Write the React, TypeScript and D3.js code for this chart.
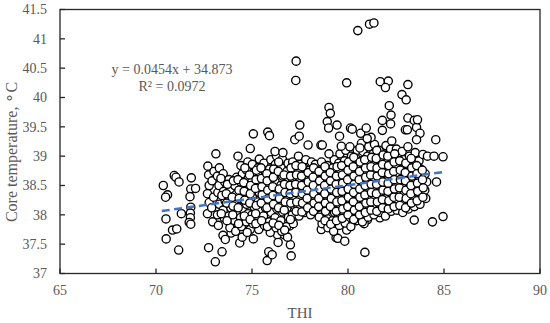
import React from 'react'
import * as d3 from 'd3'

// axis ticks
const xTicks = [65, 70, 75, 80, 85, 90]
const yTicks = [37, 37.5, 38, 38.5, 39, 39.5, 40, 40.5, 41, 41.5]

// linear trendline shown on the chart
const trendSlope = 0.0454
const trendIntercept = 34.873
const trendRange = [70.3, 85]
const trendLabel = 'y = 0.0454x + 34.873'
const r2Label = 'R² = 0.0972'

// [THI, core temperature]
const highOutliers: [number, number][] = [
  [80.51, 41.14], [81.12, 41.25], [81.35, 41.27], [77.3, 40.62], [77.28, 40.29],
  [79.93, 40.25], [81.68, 40.27], [82.1, 40.28], [81.95, 40.17], [83.12, 40.22],
  [82.81, 40.05], [83.03, 39.96],
]

const upperFringe: [number, number][] = [
  [82.15, 39.86], [82.24, 39.7], [83.12, 39.65], [83.45, 39.61], [82.22, 39.55],
  [81.79, 39.61], [81.79, 39.44], [82.99, 39.45], [83.57, 39.49], [83.75, 39.39],
  [84.57, 39.28], [83.57, 39.28], [83.9, 39.03], [84.14, 39.0], [84.48, 39.0],
  [84.95, 38.99], [84.61, 38.56], [83.62, 39.62], [83.09, 39.45],
  [77.23, 39.28], [77.49, 39.53], [77.46, 39.34], [77.92, 39.19], [78.59, 39.19],
  [79.01, 39.83], [79.08, 39.73], [78.92, 39.59], [78.99, 39.48], [79.43, 39.53],
  [79.56, 39.34], [79.65, 39.17], [80.13, 39.48], [80.66, 39.39], [80.95, 39.48],
  [81.2, 39.32], [79.01, 39.04], [78.66, 39.19], [80.22, 39.46], [81.0, 39.3],
  [73.12, 39.04], [74.27, 39.0], [75.07, 39.38], [74.91, 39.13], [75.82, 39.41],
  [75.91, 39.35], [76.2, 39.08], [76.61, 39.06],
]

const lowOutliers: [number, number][] = [
  [84.95, 37.97], [84.4, 37.88], [83.45, 37.91], [80.88, 37.36], [78.61, 37.75],
  [79.38, 37.61], [79.47, 37.6], [79.83, 37.55], [79.93, 37.74], [80.29, 37.92],
  [81.66, 37.95], [81.02, 37.92], [80.84, 37.85], [74.09, 37.87], [73.91, 37.69],
  [74.36, 37.52], [74.49, 37.62], [74.91, 37.75], [75.07, 37.59], [75.55, 37.81],
  [76.33, 37.66], [76.36, 37.53], [76.69, 37.66], [76.96, 37.81], [75.79, 37.22],
  [75.87, 37.37], [76.05, 37.32], [77.04, 37.3], [77.0, 37.49], [73.09, 37.2],
  [73.44, 37.37], [73.49, 37.65], [73.61, 37.58], [72.74, 37.44],
]

const leftCluster: [number, number][] = [
  [70.38, 38.5], [70.6, 38.34], [70.5, 38.3], [70.52, 37.93], [70.53, 37.59],
  [70.86, 37.74], [71.08, 37.76], [71.18, 37.4], [70.95, 38.67], [71.04, 38.64],
  [71.2, 38.56], [71.32, 38.02], [71.84, 38.63], [71.81, 38.44], [72.06, 38.45],
  [71.77, 38.31], [71.81, 38.13], [71.79, 38.03], [71.79, 37.95], [71.73, 37.87],
  [71.81, 37.84], [72.7, 38.83], [72.74, 38.68], [72.77, 38.5], [72.68, 38.36],
  [72.77, 38.21], [72.68, 38.02],
]

const denseCore: [number, number][] = [
  [72.95, 37.88], [72.9, 38.12], [73.0, 38.3], [72.92, 38.58], [73.02, 38.74],
  [73.25, 37.82], [73.2, 38.0], [73.3, 38.18], [73.22, 38.38], [73.28, 38.5], [73.2, 38.66], [73.3, 38.8],
  [73.55, 37.95], [73.5, 38.08], [73.6, 38.24], [73.52, 38.4], [73.58, 38.56], [73.5, 38.7],
  [73.85, 37.78], [73.8, 37.98], [73.9, 38.12], [73.82, 38.28], [73.88, 38.44], [73.8, 38.6],
  [74.15, 37.72], [74.1, 37.9], [74.2, 38.05], [74.12, 38.2], [74.18, 38.35], [74.1, 38.5], [74.2, 38.64],
  [74.45, 37.8], [74.4, 37.95], [74.5, 38.1], [74.42, 38.26], [74.48, 38.42], [74.4, 38.56], [74.5, 38.7], [74.42, 38.84],
  [74.75, 37.7], [74.7, 37.88], [74.8, 38.02], [74.72, 38.18], [74.78, 38.33], [74.7, 38.48], [74.8, 38.62], [74.72, 38.76], [74.78, 38.9],
  [75.05, 37.85], [75.0, 38.0], [75.1, 38.14], [75.02, 38.3], [75.08, 38.44], [75.0, 38.58], [75.1, 38.72], [75.02, 38.86],
  [75.35, 37.75], [75.3, 37.92], [75.4, 38.08], [75.32, 38.22], [75.38, 38.38], [75.3, 38.52], [75.4, 38.66], [75.32, 38.8], [75.38, 38.95],
  [75.65, 37.82], [75.6, 37.98], [75.7, 38.12], [75.62, 38.28], [75.68, 38.42], [75.6, 38.58], [75.7, 38.72], [75.62, 38.88],
  [75.95, 37.7], [75.9, 37.88], [76.0, 38.04], [75.92, 38.2], [75.98, 38.34], [75.9, 38.5], [76.0, 38.64], [75.92, 38.78], [75.98, 38.94],
  [76.25, 37.78], [76.2, 37.95], [76.3, 38.1], [76.22, 38.26], [76.28, 38.4], [76.2, 38.56], [76.3, 38.7], [76.22, 38.86], [76.28, 39.0],
  [76.55, 37.72], [76.5, 37.9], [76.6, 38.05], [76.52, 38.2], [76.58, 38.36], [76.5, 38.5], [76.6, 38.66], [76.52, 38.8], [76.58, 38.95],
  [76.85, 37.62], [76.8, 37.8], [76.9, 37.96], [76.82, 38.12], [76.88, 38.28], [76.8, 38.44], [76.9, 38.58], [76.82, 38.74], [76.88, 38.88],
  [77.15, 37.85], [77.1, 38.0], [77.2, 38.16], [77.12, 38.32], [77.18, 38.46], [77.1, 38.62], [77.2, 38.76], [77.12, 38.9],
  [77.45, 37.98], [77.4, 38.12], [77.5, 38.28], [77.42, 38.42], [77.48, 38.58], [77.4, 38.72], [77.5, 38.86], [77.42, 39.0],
  [77.75, 38.04], [77.7, 38.2], [77.8, 38.34], [77.72, 38.5], [77.78, 38.64], [77.7, 38.8], [77.8, 38.94],
  [78.05, 38.0], [78.0, 38.16], [78.1, 38.3], [78.02, 38.46], [78.08, 38.6], [78.0, 38.76], [78.1, 38.9],
  [78.35, 38.1], [78.3, 38.26], [78.4, 38.4], [78.32, 38.56], [78.38, 38.7], [78.3, 38.86],
  [78.65, 37.85], [78.6, 38.0], [78.7, 38.16], [78.62, 38.3], [78.68, 38.46], [78.6, 38.6], [78.7, 38.76], [78.62, 38.9],
  [78.95, 37.78], [78.9, 37.94], [79.0, 38.1], [78.92, 38.24], [78.98, 38.4], [78.9, 38.54], [79.0, 38.7], [78.92, 38.84],
  [79.25, 37.72], [79.2, 37.9], [79.3, 38.04], [79.22, 38.2], [79.28, 38.34], [79.2, 38.5], [79.3, 38.64], [79.22, 38.8], [79.28, 38.94],
  [79.55, 37.82], [79.5, 37.98], [79.6, 38.14], [79.52, 38.28], [79.58, 38.44], [79.5, 38.58], [79.6, 38.74], [79.52, 38.88], [79.58, 39.04],
  [79.85, 37.86], [79.8, 38.02], [79.9, 38.18], [79.82, 38.32], [79.88, 38.48], [79.8, 38.62], [79.9, 38.78], [79.82, 38.92], [79.88, 39.1],
  [80.15, 37.8], [80.1, 37.96], [80.2, 38.1], [80.12, 38.26], [80.18, 38.4], [80.1, 38.56], [80.2, 38.7], [80.12, 38.86], [80.18, 39.0], [80.1, 39.16],
  [80.45, 37.9], [80.4, 38.06], [80.5, 38.2], [80.42, 38.36], [80.48, 38.5], [80.4, 38.66], [80.5, 38.8], [80.42, 38.96], [80.48, 39.1],
  [80.75, 37.88], [80.7, 38.02], [80.8, 38.18], [80.72, 38.32], [80.78, 38.48], [80.7, 38.62], [80.8, 38.78], [80.72, 38.92], [80.78, 39.08], [80.7, 39.22],
  [81.05, 37.96], [81.0, 38.1], [81.1, 38.26], [81.02, 38.4], [81.08, 38.56], [81.0, 38.7], [81.1, 38.86], [81.02, 39.0], [81.08, 39.16],
  [81.35, 38.0], [81.3, 38.14], [81.4, 38.3], [81.32, 38.44], [81.38, 38.6], [81.3, 38.74], [81.4, 38.9], [81.32, 39.04], [81.38, 39.2],
  [81.65, 38.04], [81.6, 38.2], [81.7, 38.34], [81.62, 38.5], [81.68, 38.64], [81.6, 38.8], [81.7, 38.94], [81.62, 39.1],
  [81.95, 37.98], [81.9, 38.12], [82.0, 38.28], [81.92, 38.42], [81.98, 38.58], [81.9, 38.72], [82.0, 38.88], [81.92, 39.02], [81.98, 39.18],
  [82.25, 38.06], [82.2, 38.22], [82.3, 38.36], [82.22, 38.52], [82.28, 38.66], [82.2, 38.82], [82.3, 38.96], [82.22, 39.12], [82.28, 39.26],
  [82.55, 38.08], [82.5, 38.24], [82.6, 38.38], [82.52, 38.54], [82.58, 38.68], [82.5, 38.84], [82.6, 38.98], [82.52, 39.12],
  [82.85, 38.04], [82.8, 38.18], [82.9, 38.34], [82.82, 38.48], [82.88, 38.64], [82.8, 38.78], [82.9, 38.94], [82.82, 39.08],
  [83.15, 38.1], [83.1, 38.26], [83.2, 38.4], [83.12, 38.56], [83.18, 38.7], [83.1, 38.86], [83.2, 39.0], [83.12, 39.16],
  [83.45, 38.14], [83.4, 38.3], [83.5, 38.44], [83.42, 38.6], [83.48, 38.74], [83.4, 38.9], [83.5, 39.06],
  [83.75, 38.18], [83.7, 38.34], [83.8, 38.48], [83.72, 38.64], [83.78, 38.78], [83.7, 38.92],
  [84.05, 38.28], [84.0, 38.42], [84.1, 38.56], [84.02, 38.7],
]

// second, offset layer of the crowded middle
const denseFill: [number, number][] = [
  [73.4, 38.02], [73.43, 38.33], [73.38, 38.62],
  [73.7, 37.9], [73.68, 38.2], [73.72, 38.52], [73.66, 38.36],
  [74.0, 38.0], [73.97, 38.3], [74.03, 38.58], [74.01, 38.15],
  [74.3, 37.85], [74.28, 38.12], [74.32, 38.42], [74.27, 38.6], [74.33, 38.28],
  [74.6, 37.98], [74.62, 38.25], [74.57, 38.55], [74.63, 38.8], [74.59, 38.4],
  [74.9, 37.92], [74.88, 38.2], [74.93, 38.5], [74.87, 38.68], [74.91, 38.36],
  [75.2, 37.85], [75.22, 38.16], [75.18, 38.45], [75.23, 38.76], [75.19, 38.02], [75.21, 38.6],
  [75.5, 37.9], [75.48, 38.2], [75.52, 38.48], [75.47, 38.8], [75.53, 38.34], [75.49, 38.62],
  [75.8, 37.8], [75.78, 38.12], [75.82, 38.42], [75.77, 38.7], [75.83, 38.27], [75.79, 38.58],
  [76.1, 37.86], [76.12, 38.18], [76.08, 38.48], [76.13, 38.78], [76.09, 38.33], [76.11, 38.64],
  [76.4, 37.82], [76.38, 38.12], [76.42, 38.44], [76.37, 38.74], [76.43, 38.28], [76.39, 38.9],
  [76.7, 37.74], [76.68, 38.08], [76.72, 38.38], [76.67, 38.68], [76.73, 38.22], [76.69, 38.52],
  [77.0, 37.92], [77.02, 38.2], [76.98, 38.5], [77.03, 38.8], [76.99, 38.36], [77.01, 38.66],
  [77.3, 38.06], [77.28, 38.38], [77.32, 38.68], [77.27, 38.52], [77.33, 38.22], [77.29, 38.84],
  [77.6, 38.05], [77.62, 38.36], [77.58, 38.66], [77.63, 38.2], [77.59, 38.5], [77.61, 38.82],
  [77.9, 38.12], [77.88, 38.42], [77.92, 38.72], [77.87, 38.28], [77.93, 38.56],
  [78.2, 38.06], [78.22, 38.36], [78.18, 38.64], [78.23, 38.2], [78.19, 38.5], [78.21, 38.8],
  [78.5, 37.96], [78.48, 38.28], [78.52, 38.58], [78.47, 38.14], [78.53, 38.44], [78.49, 38.74],
  [78.8, 37.9], [78.82, 38.2], [78.78, 38.5], [78.83, 38.06], [78.79, 38.36], [78.81, 38.66], [78.8, 38.82],
  [79.1, 37.84], [79.08, 38.14], [79.12, 38.44], [79.07, 38.72], [79.13, 38.28], [79.09, 38.58],
  [79.4, 37.9], [79.42, 38.22], [79.38, 38.52], [79.43, 38.82], [79.39, 38.06], [79.41, 38.38], [79.4, 38.66],
  [79.7, 37.94], [79.68, 38.24], [79.72, 38.54], [79.67, 38.84], [79.73, 38.1], [79.69, 38.4], [79.71, 38.68],
  [80.0, 38.0], [80.02, 38.3], [79.98, 38.6], [80.03, 38.9], [79.99, 38.14], [80.01, 38.44], [80.0, 38.76],
  [80.3, 37.92], [80.28, 38.22], [80.32, 38.52], [80.27, 38.82], [80.33, 38.08], [80.29, 38.38], [80.31, 38.66], [80.3, 38.98],
  [80.6, 38.0], [80.62, 38.3], [80.58, 38.6], [80.63, 38.9], [80.59, 38.14], [80.61, 38.44], [80.6, 38.74], [80.62, 39.14],
  [80.9, 38.04], [80.88, 38.34], [80.92, 38.64], [80.87, 38.94], [80.93, 38.2], [80.89, 38.5], [80.91, 38.8],
  [81.2, 38.08], [81.22, 38.38], [81.18, 38.68], [81.23, 38.98], [81.19, 38.22], [81.21, 38.52], [81.2, 38.82],
  [81.5, 38.06], [81.48, 38.36], [81.52, 38.66], [81.47, 38.96], [81.53, 38.22], [81.49, 38.52], [81.51, 38.8], [81.5, 39.1],
  [81.8, 38.12], [81.82, 38.42], [81.78, 38.72], [81.83, 39.02], [81.79, 38.26], [81.81, 38.56], [81.8, 38.86],
  [82.1, 38.1], [82.08, 38.4], [82.12, 38.7], [82.07, 39.0], [82.13, 38.24], [82.09, 38.54], [82.11, 38.84],
  [82.4, 38.14], [82.42, 38.44], [82.38, 38.74], [82.43, 39.04], [82.39, 38.3], [82.41, 38.6], [82.4, 38.9],
  [82.7, 38.16], [82.68, 38.46], [82.72, 38.76], [82.67, 38.3], [82.73, 38.6], [82.69, 38.92],
  [83.0, 38.12], [83.02, 38.42], [82.98, 38.72], [83.03, 38.28], [82.99, 38.58], [83.01, 38.88],
  [83.3, 38.2], [83.28, 38.5], [83.32, 38.8], [83.27, 38.36], [83.33, 38.66], [83.29, 38.96],
  [83.6, 38.24], [83.62, 38.54], [83.58, 38.84], [83.63, 38.4], [83.59, 38.7],
  [83.9, 38.3], [83.88, 38.6], [83.92, 38.46], [83.87, 38.76],
]

const W = 550
const H = 323
const margin = { top: 9.5, right: 10, bottom: 49.5, left: 60 }
const axisColor = '#262626'
const textColor = '#595959'
const font = '"Liberation Serif", "Times New Roman", serif'

export default function App() {
  const x = d3.scaleLinear().domain([65, 90]).range([margin.left, W - margin.right])
  const y = d3.scaleLinear().domain([37, 41.5]).range([H - margin.bottom, margin.top])

  const points = [...leftCluster, ...lowOutliers, ...denseCore, ...denseFill, ...upperFringe, ...highOutliers]

  const trend = d3.line<number>()
    .x(d => x(d))
    .y(d => y(trendSlope * d + trendIntercept))

  const bottom = H - margin.bottom
  const right = W - margin.right

  return (
    <svg width={W} height={H} style={{ position: 'absolute', left: 0, top: 0, background: '#fff' }}>
      {/* markers */}
      <g>
        {points.map((d, i) => (
          <circle key={i} cx={x(d[0])} cy={y(d[1])} r={4.1}
            fill="#fff" stroke="#000" strokeWidth={1.35} />
        ))}
      </g>

      {/* trendline */}
      <path d={trend(trendRange) || ''} fill="none" stroke="#4472C4"
        strokeWidth={2.5} strokeDasharray="8,4.5" />

      {/* frame */}
      <rect x={margin.left} y={margin.top} width={right - margin.left} height={bottom - margin.top}
        fill="none" stroke={axisColor} strokeWidth={1.3} />

      {/* x ticks */}
      {xTicks.map(t => (
        <g key={'x' + t}>
          <line x1={x(t)} x2={x(t)} y1={bottom} y2={bottom - 5} stroke={axisColor} strokeWidth={1.3} />
          <text x={x(t)} y={295} textAnchor="middle" fontFamily={font} fontSize={14} fill={textColor}>{t}</text>
        </g>
      ))}

      {/* y ticks */}
      {yTicks.map(t => (
        <g key={'y' + t}>
          <line x1={margin.left} x2={margin.left + 5} y1={y(t)} y2={y(t)} stroke={axisColor} strokeWidth={1.3} />
          <text x={47} y={y(t)} dy="0.35em" textAnchor="end" fontFamily={font} fontSize={14} fill={textColor}>{t}</text>
        </g>
      ))}

      {/* axis titles */}
      <text x={300} y={318} textAnchor="middle" fontFamily={font} fontSize={15} fill={textColor}>THI</text>
      <text transform={`translate(17,152) rotate(-90)`} textAnchor="middle" fontFamily={font} fontSize={16} fill={textColor}>
        Core temperature, <tspan dy="-2">∘</tspan><tspan dy="2">C</tspan>
      </text>

      {/* trend equation */}
      <text x={172} y={74} textAnchor="middle" fontFamily={font} fontSize={14} fill={textColor}>{trendLabel}</text>
      <text x={172} y={91} textAnchor="middle" fontFamily={font} fontSize={14} fill={textColor}>{r2Label}</text>
    </svg>
  )
}
